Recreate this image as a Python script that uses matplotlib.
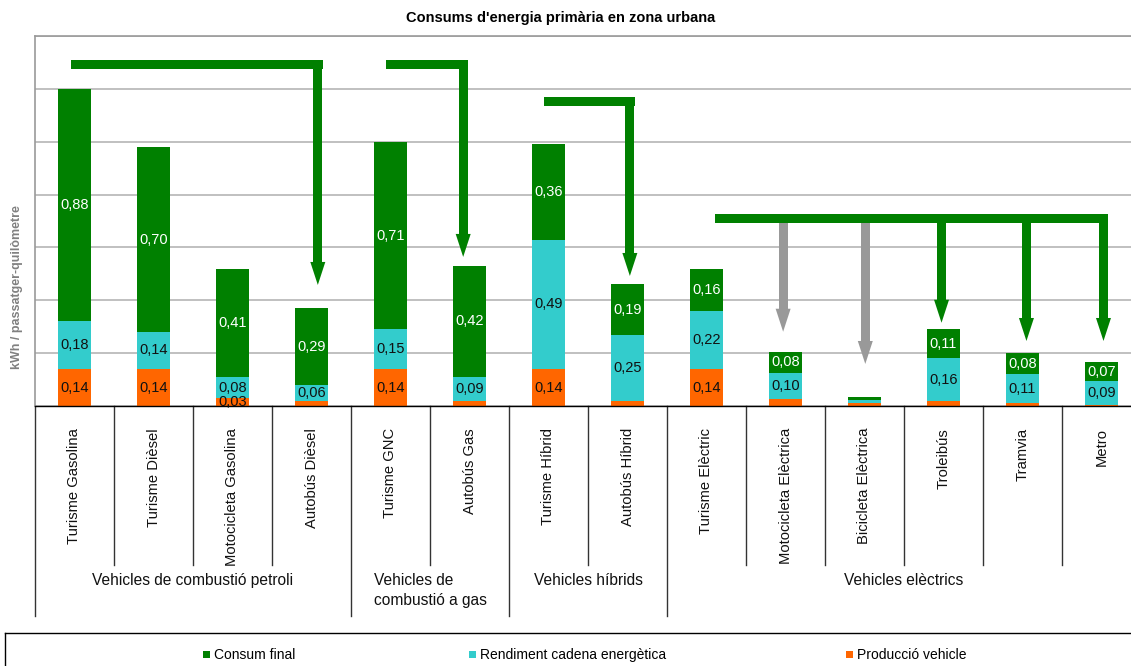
import matplotlib
matplotlib.use('Agg')
import matplotlib.pyplot as plt
from matplotlib.patches import Rectangle, Polygon
from matplotlib.lines import Line2D
import numpy as np

plt.rcParams['font.family'] = ['Liberation Sans Narrow', 'Liberation Sans', 'DejaVu Sans']

title = "Consums d'energia primària en zona urbana"
ylabel = "kWh / passatger-quilòmetre"
categories = ["Turisme Gasolina", "Turisme Dièsel", "Motocicleta Gasolina", "Autobús Dièsel",
              "Turisme GNC", "Autobús Gas", "Turisme Híbrid", "Autobús Híbrid",
              "Turisme Elèctric", "Motocicleta Elèctrica", "Bicicleta Elèctrica",
              "Troleibús", "Tramvia", "Metro"]
groups = ["Vehicles de combustió petroli", "Vehicles de\ncombustió a gas",
          "Vehicles híbrids", "Vehicles elèctrics"]
group_sizes = [4, 2, 2, 6]
series_names = ["Consum final", "Rendiment cadena energètica", "Producció vehicle"]
produccio = [0.14, 0.14, 0.03, 0.02, 0.14, 0.02, 0.14, 0.02, 0.14, 0.025, 0.01, 0.02, 0.01, 0.005]
rendiment = [0.18, 0.14, 0.08, 0.06, 0.15, 0.09, 0.49, 0.25, 0.22, 0.10, 0.012, 0.16, 0.11, 0.09]
consum = [0.88, 0.70, 0.41, 0.29, 0.71, 0.42, 0.36, 0.19, 0.16, 0.08, 0.012, 0.11, 0.08, 0.07]

# arrows: (x_left, x_right, y_horizontal, [(x_drop, y_tip, colour), ...]) in data units
arrows = [
    (-0.05, 3.14, 1.292, [(3.08, 0.458, 'green')]),
    (3.94, 4.98, 1.292, [(4.92, 0.564, 'green')]),
    (5.94, 7.09, 1.152, [(7.03, 0.492, 'green')]),
    (8.11, 13.08, 0.711, [(8.97, 0.281, 'gray'), (10.01, 0.159, 'gray'),
                          (10.975, 0.315, 'green'), (12.05, 0.246, 'green'),
                          (13.025, 0.246, 'green')]),
]

C_GREEN = '#008000'
C_CYAN = '#33CCCC'
C_ORANGE = '#FF6600'
C_GRAY = '#999999'
colors = [C_GREEN, C_CYAN, C_ORANGE]

W, H = 1131, 666
fig = plt.figure(figsize=(W / 100, H / 100), dpi=100)
ax_l, ax_r, ax_t, ax_b = 35, 1141, 36, 406
ax = fig.add_axes([ax_l / W, 1 - ax_b / H, (ax_r - ax_l) / W, (ax_b - ax_t) / H])

x = np.arange(len(categories))
bw = 0.41
prod = np.array(produccio)
rend = np.array(rendiment)
cons = np.array(consum)
ax.bar(x, prod, bw, color=C_ORANGE, zorder=2)
ax.bar(x, rend, bw, bottom=prod, color=C_CYAN, zorder=2)
ax.bar(x, cons, bw, bottom=prod + rend, color=C_GREEN, zorder=2)

def fmt(v):
    return f"{v:.2f}".replace('.', ',')

for i in range(len(categories)):
    for vals, base, col in [(prod, 0, '#111111'), (rend, prod, '#111111'), (cons, prod + rend, 'white')]:
        v = vals[i]
        b = base if np.isscalar(base) else base[i]
        if v >= 0.03:
            ax.text(x[i], b + v / 2, fmt(v), ha='center', va='center', fontsize=10.5,
                    color=col, zorder=4)

ax.set_xlim(-0.5, len(categories) - 0.5)
ax.set_ylim(0, 1.4)
ax.set_yticks(np.arange(0, 1.41, 0.2))
ax.set_yticklabels([])
ax.set_xticks([])
ax.tick_params(axis='y', length=0)
ax.yaxis.grid(True, color='#b5b5b5', lw=1.2, zorder=0)
ax.set_axisbelow(True)
for s in ['left', 'top']:
    ax.spines[s].set_color('#9a9a9a')
    ax.spines[s].set_linewidth(1.2)
ax.spines['right'].set_visible(False)
ax.spines['bottom'].set_color('black')
ax.spines['bottom'].set_linewidth(1.0)

# arrows
px_x = 1 / 79.0
px_y = 1.4 / 370.0
th = 9
hl = 23
hw = 7.5
for xl, xr, yh, drops in arrows:
    for xd, ytip, c in drops:
        col = C_GREEN if c == 'green' else C_GRAY
        ybase = ytip + hl * px_y
        ytop = yh + th / 2 * px_y if c == 'green' else yh
        ax.add_patch(Rectangle((xd - th / 2 * px_x, ybase), th * px_x, ytop - ybase,
                               color=col, lw=0, zorder=3))
        ax.add_patch(Polygon([(xd - hw * px_x, ybase), (xd + hw * px_x, ybase), (xd, ytip)],
                             closed=True, color=col, lw=0, zorder=3))
    ax.add_patch(Rectangle((xl, yh - th / 2 * px_y), xr - xl, th * px_y,
                           color=C_GREEN, lw=0, zorder=3.5))

# category labels and separators
tr = ax.get_xaxis_transform()
ah = ax_b - ax_t
def ay(py):
    return -(py - ax_b) / ah

for i, cat in enumerate(categories):
    ax.text(i, ay(428), cat, rotation=90, ha='center', va='top', fontsize=10.6,
            transform=tr, color='#111111')

bounds = np.cumsum([0] + group_sizes) - 0.5
for i in range(len(categories) + 1):
    xb = i - 0.5
    if np.any(np.isclose(bounds, xb)):
        ax.plot([xb, xb], [0, ay(616)], transform=tr, color='#333333', lw=1.0, clip_on=False)
    else:
        ax.plot([xb, xb], [0, ay(565)], transform=tr, color='#333333', lw=1.0, clip_on=False)

for g, name in enumerate(groups):
    xc = (bounds[g] + bounds[g + 1]) / 2
    ax.text(xc, ay(573), name, ha='center', va='top', fontsize=11.2, transform=tr,
            multialignment='left', linespacing=1.45, color='#111111')

fig.text(561 / W, 1 - 18 / H, title, ha='center', va='center', fontsize=10.5, weight='bold')
fig.text(17 / W, 1 - 287 / H, ylabel, ha='center', va='center', rotation=90,
         fontsize=9, weight='bold', color='#808080')

# legend box
fig.add_artist(Line2D([5 / W, 1], [1 - 633 / H] * 2, color='black', lw=1.0))
fig.add_artist(Line2D([5 / W, 5 / W], [1 - 633 / H, 0], color='black', lw=1.0))
leg_x = [203, 469, 846]
for name, col, lx in zip(series_names, colors, leg_x):
    fig.add_artist(Rectangle((lx / W, 1 - 658 / H), 7 / W, 7 / H, color=col, lw=0,
                             transform=fig.transFigure))
    fig.text((lx + 11) / W, 1 - 655 / H, name, ha='left', va='center', fontsize=10)

fig.savefig('out.png', dpi=100)
